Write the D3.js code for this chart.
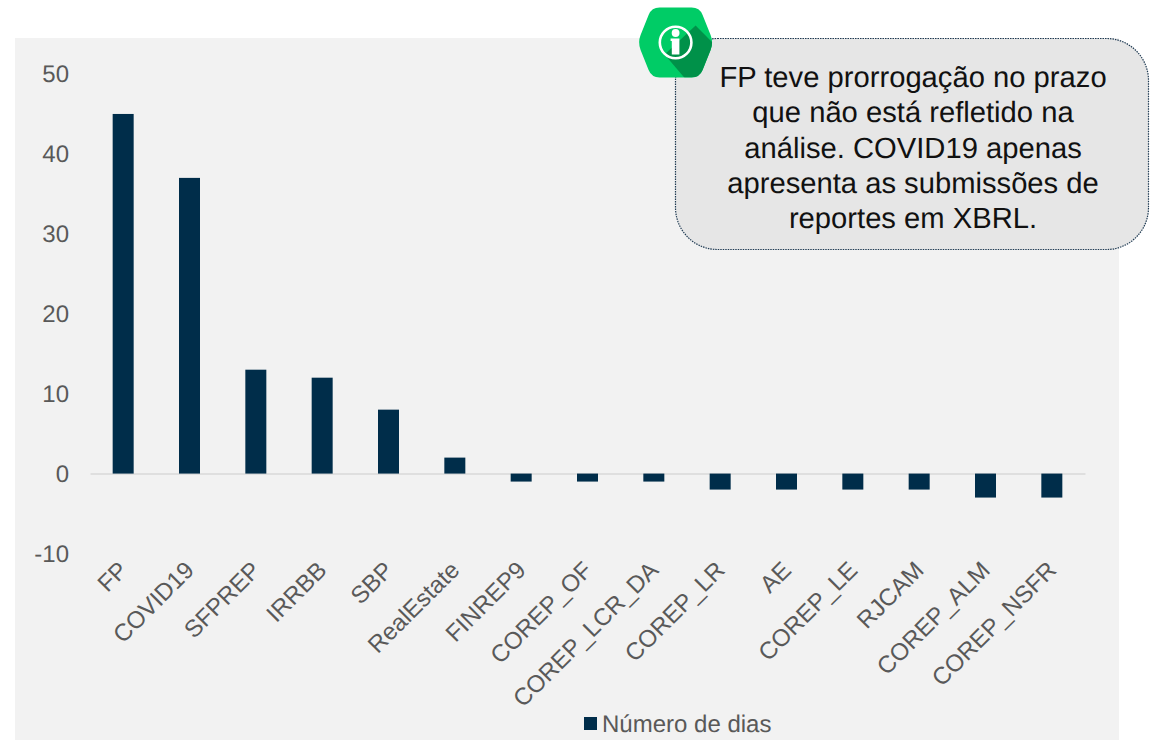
<!DOCTYPE html>
<html>
<head>
<meta charset="utf-8">
<script src="https://cdn.jsdelivr.net/npm/d3@7"></script>
<style>
  html, body { margin: 0; padding: 0; background: #fff; }
  svg { display: block; font-family: "Liberation Sans", Arial, sans-serif; text-rendering: geometricPrecision; }
</style>
</head>
<body>
<svg id="chart" width="1150" height="740"></svg>
<script>
let categories = ["FP", "COVID19", "SFPREP", "IRRBB", "SBP", "RealEstate", "FINREP9", "COREP_OF",
  "COREP_LCR_DA", "COREP_LR", "AE", "COREP_LE", "RJCAM", "COREP_ALM", "COREP_NSFR"];
let dias = [45, 37, 13, 12, 8, 2, -1, -1, -1, -2, -2, -2, -2, -3, -3];
let yTicks = [-10, 0, 10, 20, 30, 40, 50];
let legendLabel = "Número de dias";
let noteLines = ["FP teve prorrogação no prazo", "que não está refletido na", "análise. COVID19 apenas",
  "apresenta as submissões de", "reportes em XBRL."];

let svg = d3.select("#chart");

// chart background
svg.append("rect")
  .attr("x", 15).attr("y", 38)
  .attr("width", 1104).attr("height", 702)
  .attr("fill", "#f2f2f2");

let x = d3.scaleBand().domain(categories).range([90, 1085]);
let y = d3.scaleLinear().domain([-10, 50]).range([553.5, 74]);
let barWidth = 21;

// y axis, labels only
let yAxis = svg.append("g")
  .attr("transform", "translate(69,0)")
  .call(d3.axisLeft(y).tickValues(yTicks).tickSize(0).tickPadding(0).tickFormat(d => String(d)));
yAxis.select(".domain").remove();
yAxis.selectAll("text")
  .attr("font-family", "Liberation Sans, Arial, sans-serif")
  .attr("font-size", 24)
  .attr("fill", "#595959");

// x axis sits on zero, labels stay below the -10 line
let xAxis = svg.append("g")
  .attr("transform", "translate(0," + y(0) + ")")
  .call(d3.axisBottom(x).tickSize(0).tickPadding(0));
xAxis.select(".domain")
  .attr("stroke", "#d9d9d9")
  .attr("stroke-width", 1.5);
xAxis.selectAll("text")
  .attr("font-family", "Liberation Sans, Arial, sans-serif")
  .attr("font-size", 24)
  .attr("fill", "#595959")
  .attr("text-anchor", "end")
  .attr("dy", null)
  .attr("y", 0)
  .attr("transform", "translate(6,98) rotate(-45)");

// bars
svg.append("g")
  .selectAll("rect")
  .data(dias)
  .join("rect")
  .attr("x", (d, i) => x(categories[i]) + x.bandwidth() / 2 - barWidth / 2)
  .attr("y", d => Math.min(y(d), y(0)))
  .attr("width", barWidth)
  .attr("height", d => Math.abs(y(d) - y(0)))
  .attr("fill", "#002d4a");

// legend
svg.append("rect")
  .attr("x", 584).attr("y", 717)
  .attr("width", 13).attr("height", 13)
  .attr("fill", "#002d4a");
svg.append("text")
  .attr("x", 602).attr("y", 732)
  .attr("font-size", 24)
  .attr("fill", "#595959")
  .text(legendLabel);

// note box
svg.append("rect")
  .attr("x", 675.5).attr("y", 38.5)
  .attr("width", 473).attr("height", 211)
  .attr("rx", 42).attr("ry", 42)
  .attr("fill", "#e6e6e6")
  .attr("stroke", "#1f3a52")
  .attr("stroke-width", 1.2)
  .attr("stroke-dasharray", "1.5 1");

svg.append("g")
  .selectAll("text")
  .data(noteLines)
  .join("text")
  .attr("x", 913)
  .attr("y", (d, i) => 87 + i * 35.3)
  .attr("text-anchor", "middle")
  .attr("font-size", 29.2)
  .attr("fill", "#111")
  .text(d => d);

// info badge
let badge = svg.append("g").attr("transform", "translate(675.6,42.5)");
let hexPath = "M-16,-35 H16 Q24,-35 27,-27.6 L35,-7.4 Q38,0 35,7.4 L27,27.6 Q24,35 16,35 H-16 Q-24,35 -27,27.6 L-35,7.4 Q-38,0 -35,-7.4 L-27,-27.6 Q-24,-35 -16,-35 Z";
badge.append("clipPath").attr("id", "hexClip").append("path").attr("d", hexPath);
badge.append("path").attr("d", hexPath).attr("fill", "#00cc66");
badge.append("path")
  .attr("clip-path", "url(#hexClip)")
  .attr("d", "M-11,12 L20,-17 L60,23 L30,60 Z")
  .attr("fill", "#009149");
badge.append("circle")
  .attr("r", 15.8)
  .attr("fill", "none")
  .attr("stroke", "#fff")
  .attr("stroke-width", 2.6);
badge.append("circle").attr("cx", 0).attr("cy", -9.5).attr("r", 3.9).attr("fill", "#fff");
badge.append("path")
  .attr("d", "M-5,-4 H3.8 V12 H-3.8 V-1.5 H-5 Z")
  .attr("fill", "#fff");
</script>
</body>
</html>
